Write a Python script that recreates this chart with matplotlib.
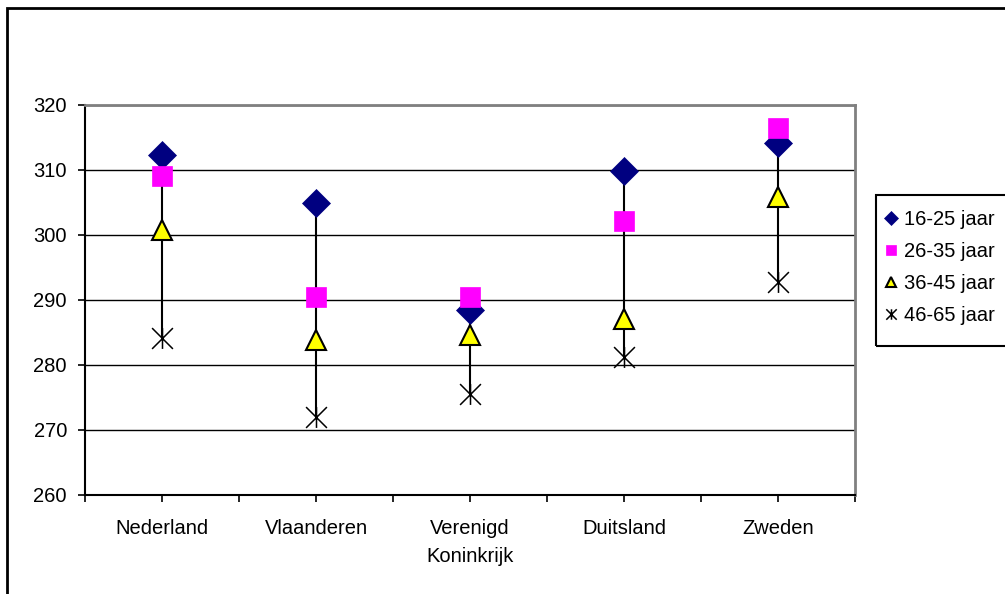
import matplotlib.pyplot as plt
import numpy as np
from matplotlib.patches import Rectangle
from matplotlib.path import Path

# scores per country for each age group
countries = ["Nederland", "Vlaanderen", "Verenigd\nKoninkrijk", "Duitsland", "Zweden"]
age_groups = ["16-25 jaar", "26-35 jaar", "36-45 jaar", "46-65 jaar"]
scores_16_25 = [312.3, 305.0, 288.5, 309.9, 314.2]
scores_26_35 = [309.1, 290.4, 290.4, 302.1, 316.5]
scores_36_45 = [300.8, 283.9, 284.6, 287.1, 305.8]
scores_46_65 = [284.1, 272.0, 275.5, 281.2, 292.7]
y_ticks = [260, 270, 280, 290, 300, 310, 320]

plt.rcParams["font.family"] = ["Liberation Sans", "DejaVu Sans"]
FONT_SIZE = 14.5
W, H = 1005, 594

# Excel-style star: an X with a vertical stroke
star = Path(
    [(-1, -1), (1, 1), (-1, 1), (1, -1), (0, -1), (0, 1)],
    [Path.MOVETO, Path.LINETO, Path.MOVETO, Path.LINETO, Path.MOVETO, Path.LINETO],
)

series = [
    (scores_16_25, dict(marker="D", color="#000080", mec="#000080", ms=14.5, mew=0.5)),
    (scores_26_35, dict(marker="s", color="#FF00FF", mec="#FF00FF", ms=14, mew=0.5)),
    (scores_36_45, dict(marker="^", color="#FFFF00", mec="black", ms=14.5, mew=1.5)),
    (scores_46_65, dict(marker=star, color="black", mec="black", ms=15, mew=1.1)),
]

fig = plt.figure(figsize=(W / 100, H / 100), dpi=100)
ax = fig.add_axes([85 / W, 1 - 495 / H, 770 / W, 390 / H])

x = np.arange(len(countries))
all_scores = np.array([s for s, _ in series])

# high-low lines
ax.vlines(x, all_scores.min(axis=0), all_scores.max(axis=0), color="black", lw=1.5, zorder=2)

for (values, style), label in zip(series, age_groups):
    ax.plot(x, values, ls="none", label=label, zorder=3, **style)

ax.set_xlim(-0.5, len(countries) - 0.5)
ax.set_ylim(260, 320)
ax.set_yticks(y_ticks)
ax.tick_params(axis="y", labelsize=FONT_SIZE, length=5, width=1.2, pad=8, direction="out")
ax.yaxis.grid(True, color="black", lw=1)
ax.set_axisbelow(True)

ax.set_xticks(x)
ax.set_xticklabels(countries)
ax.set_xticks(np.arange(-0.5, len(countries)), minor=True)
ax.tick_params(axis="x", which="both", length=5, width=1.2, direction="out")
ax.tick_params(axis="x", labelsize=FONT_SIZE, pad=12)
for lbl in ax.get_xticklabels():
    lbl.set_linespacing(1.65)

for side in ("left", "bottom"):
    ax.spines[side].set_color("black")
    ax.spines[side].set_linewidth(1.5)
for side in ("top", "right"):
    ax.spines[side].set_color("#808080")
    ax.spines[side].set_linewidth(2)

# legend entries without their own frame; the box is drawn separately
fig.legend(
    loc="upper left",
    bbox_to_anchor=(876 / W, 1 - 201 / H),
    borderaxespad=0,
    fontsize=FONT_SIZE,
    markerscale=0.5,
    handlelength=0.55,
    handletextpad=0.4,
    borderpad=0.45,
    labelspacing=0.64,
    frameon=False,
)
fig.patches.append(
    Rectangle((876 / W, 1 - 346 / H), 0.2, 151 / H, transform=fig.transFigure,
              fill=False, edgecolor="black", lw=1.5)
)

# outer chart frame
fig.patches.append(
    Rectangle((7 / W, -0.1), 1.2, 1.1 - 8 / H, transform=fig.transFigure,
              fill=False, edgecolor="black", lw=2)
)

fig.savefig("out.png", dpi=100)
